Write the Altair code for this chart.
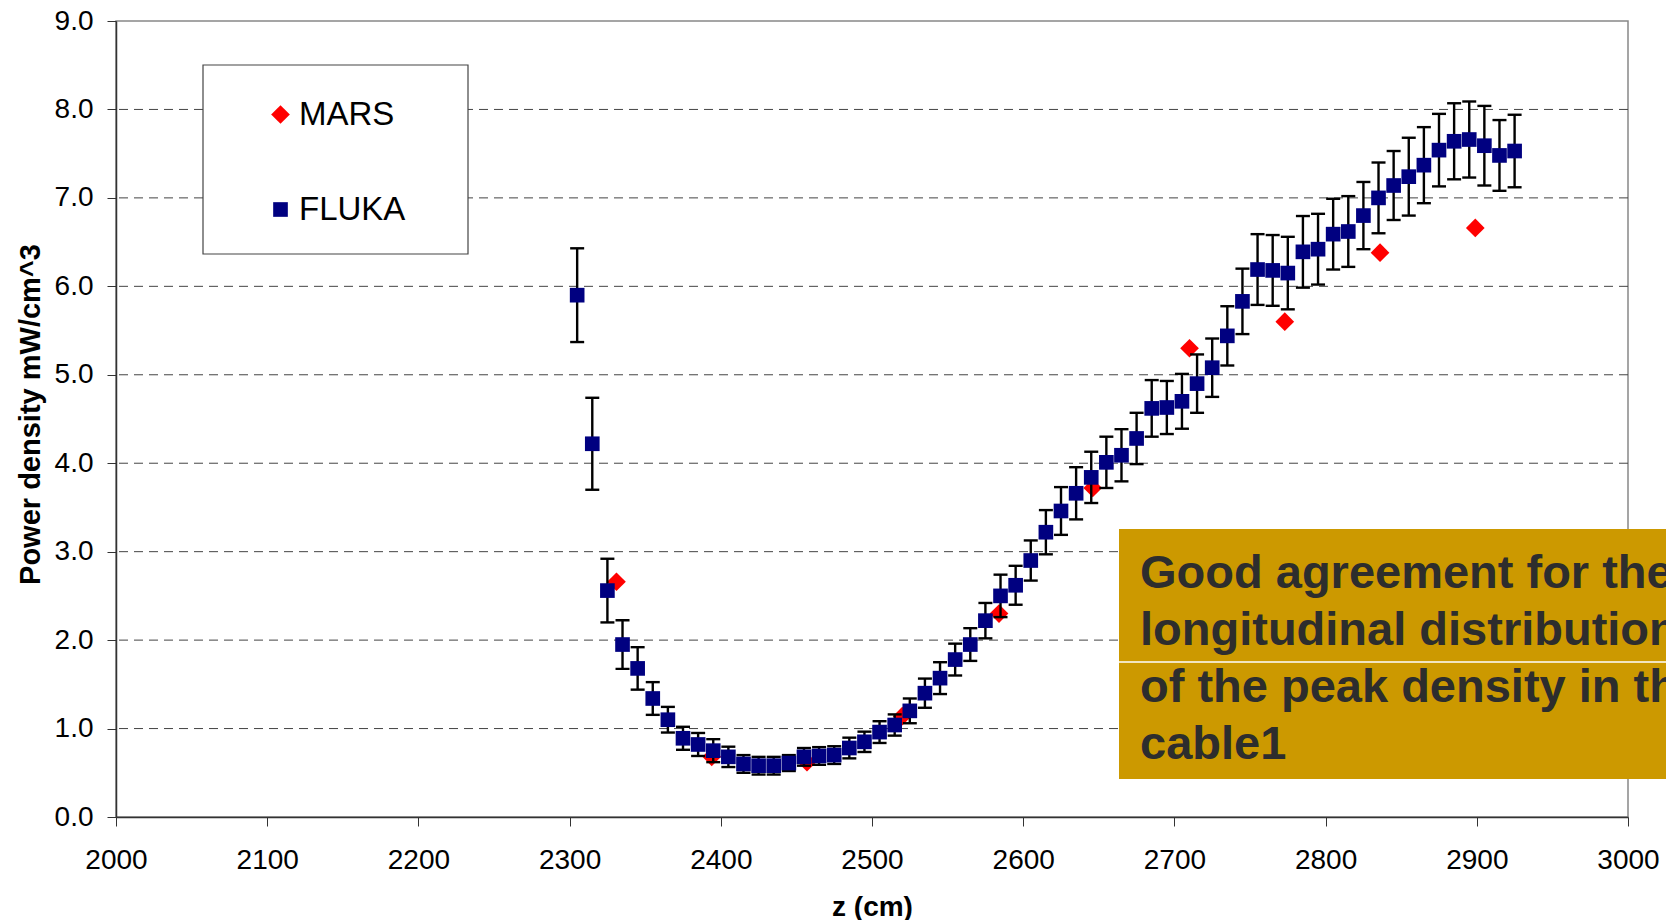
import altair as alt
import pandas as pd

# FLUKA: peak power density in the cable, 10 cm bins, with error bars
fluka_z = list(range(2305, 2926, 10))
fluka_power = [
    5.90, 4.22, 2.56, 1.95, 1.68, 1.34, 1.10, 0.89, 0.82, 0.75,
    0.68, 0.60, 0.58, 0.58, 0.61, 0.68, 0.69, 0.70, 0.78, 0.85,
    0.96, 1.04, 1.20, 1.40, 1.57, 1.78, 1.95, 2.22, 2.50, 2.62,
    2.90, 3.22, 3.46, 3.66, 3.84, 4.01, 4.09, 4.28, 4.62, 4.63,
    4.70, 4.90, 5.08, 5.44, 5.83, 6.19, 6.18, 6.15, 6.39, 6.42,
    6.59, 6.62, 6.80, 7.00, 7.14, 7.24, 7.37, 7.54, 7.64, 7.66,
    7.59, 7.48, 7.53,
]
fluka_err = [
    0.53, 0.52, 0.36, 0.275, 0.24, 0.185, 0.145, 0.13, 0.13, 0.13,
    0.115, 0.10, 0.10, 0.10, 0.09, 0.10, 0.10, 0.10, 0.117, 0.115,
    0.123, 0.12, 0.14, 0.165, 0.18, 0.18, 0.185, 0.20, 0.24, 0.22,
    0.227, 0.25, 0.27, 0.295, 0.29, 0.29, 0.295, 0.29, 0.32, 0.30,
    0.31, 0.33, 0.33, 0.335, 0.37, 0.40, 0.40, 0.41, 0.405, 0.40,
    0.40, 0.40, 0.38, 0.40, 0.39, 0.44, 0.43, 0.41, 0.43, 0.43,
    0.45, 0.40, 0.41,
]

# MARS: same quantity, coarser sampling
mars_z = [2331, 2394, 2457, 2520, 2584, 2646, 2710, 2773, 2836, 2899]
mars_power = [2.66, 0.68, 0.62, 1.14, 2.30, 3.72, 5.30, 5.60, 6.38, 6.66]

series_names = ["MARS", "FLUKA"]
series_colors = ["#FF0000", "#000080"]
series_shapes = ["diamond", "square"]
series_sizes = [350, 215]

x_ticks = list(range(2000, 3001, 100))
y_ticks = list(range(0, 10))
grid_levels = list(range(1, 9))

note_lines = [
    "Good agreement for the",
    "longitudinal distribution",
    "of the peak density in the",
    "cable1",
]

FONT = "Liberation Sans"

fluka_df = pd.DataFrame({
    "z": fluka_z,
    "power": fluka_power,
    "lo": [v - e for v, e in zip(fluka_power, fluka_err)],
    "hi": [v + e for v, e in zip(fluka_power, fluka_err)],
    "series": "FLUKA",
})
mars_df = pd.DataFrame({"z": mars_z, "power": mars_power, "series": "MARS"})
grid_df = pd.DataFrame({"level": grid_levels})
one = alt.Data(values=[{}])

x_scale = alt.Scale(domain=[2000, 3000], nice=False, zero=False)
y_scale = alt.Scale(domain=[0, 9], nice=False, zero=True)

x_axis = alt.Axis(
    values=x_ticks, format="d", grid=False, title="z (cm)",
    labelFont=FONT, labelFontSize=28, labelColor="black", labelPadding=20,
    labelFlush=False, labelOverlap=False,
    tickSize=9, tickColor="#333", domainColor="#333", domainWidth=1.5,
    titleFont=FONT, titleFontSize=28, titleFontWeight="bold", titleColor="black",
    titleX=756, titleY=98, titleBaseline="alphabetic", titleAlign="center",
    zindex=1,
)
y_axis = alt.Axis(
    values=y_ticks, format=".1f", grid=False, title="Power density mW/cm^3",
    labelFont=FONT, labelFontSize=28, labelColor="black", labelPadding=14,
    labelFlush=False, labelOverlap=False,
    tickSize=9, tickColor="#333", domainColor="#333", domainWidth=1.5,
    titleFont=FONT, titleFontSize=29, titleFontWeight="bold", titleColor="black",
    titleAngle=270, titleX=-77, titleY=393, titleBaseline="alphabetic",
    titleAlign="center", zindex=1,
)

X = alt.X("z:Q", scale=x_scale, axis=x_axis)
Y = alt.Y("power:Q", scale=y_scale, axis=y_axis)

legend = alt.Legend(
    orient="none", legendX=148, legendY=77, title=None,
    labelFont=FONT, labelFontSize=33, labelColor="black",
    labelOffset=2, rowPadding=61, padding=0,
    symbolStrokeWidth=0, symbolOpacity=1,
)
color = alt.Color("series:N", scale=alt.Scale(domain=series_names, range=series_colors), legend=legend)
shape = alt.Shape("series:N", scale=alt.Scale(domain=series_names, range=series_shapes), legend=legend)
size = alt.Size("series:N", scale=alt.Scale(domain=series_names, range=series_sizes), legend=legend)

grid = alt.Chart(grid_df).mark_rule(color="#444", strokeDash=[9, 6], strokeWidth=1).encode(
    y=alt.Y("level:Q", scale=y_scale, axis=y_axis)
)

legend_box = alt.Chart(one).mark_rect(fill="white", stroke="#444", strokeWidth=1.2).encode(
    x=alt.value(87), x2=alt.value(352), y=alt.value(44), y2=alt.value(233)
)

mars = alt.Chart(mars_df).mark_point(filled=True, opacity=1, strokeWidth=0).encode(
    x=X, y=Y, color=color, shape=shape, size=size
)

err_rule = alt.Chart(fluka_df).mark_rule(color="black", strokeWidth=2.4).encode(
    x=X, y=alt.Y("lo:Q", scale=y_scale, axis=y_axis), y2="hi:Q"
)
err_lo = alt.Chart(fluka_df).mark_tick(orient="horizontal", color="black", size=14, thickness=2.4, opacity=1).encode(
    x=X, y=alt.Y("lo:Q", scale=y_scale, axis=y_axis)
)
err_hi = alt.Chart(fluka_df).mark_tick(orient="horizontal", color="black", size=14, thickness=2.4, opacity=1).encode(
    x=X, y=alt.Y("hi:Q", scale=y_scale, axis=y_axis)
)

fluka = alt.Chart(fluka_df).mark_point(filled=True, opacity=1, strokeWidth=0).encode(
    x=X, y=Y, color=color, shape=shape, size=size
)

note_box = alt.Chart(one).mark_rect(fill="#CC9900").encode(
    x=alt.value(1003), x2=alt.value(1560), y=alt.value(508), y2=alt.value(758)
)
note_split = alt.Chart(one).mark_rule(color="white", strokeWidth=1.5).encode(
    x=alt.value(1003), x2=alt.value(1560), y=alt.value(641)
)
note_text = alt.Chart(one).mark_text(
    text=note_lines, font=FONT, fontSize=47, fontWeight="bold", color="#2d2d2d",
    align="left", baseline="alphabetic", lineHeight=57,
).encode(x=alt.value(1024), y=alt.value(567))

chart = alt.layer(
    grid, legend_box, mars, err_rule, err_lo, err_hi, fluka, note_box, note_split, note_text
).properties(
    width=1512, height=796,
    padding={"left": 116, "top": 21, "right": 38, "bottom": 103},
    autosize=alt.AutoSizeParams(type="none"),
    background="white",
).configure_view(stroke="#888", strokeWidth=1.5)

chart.save("out.html", embed_options={"renderer": "svg", "actions": False})
